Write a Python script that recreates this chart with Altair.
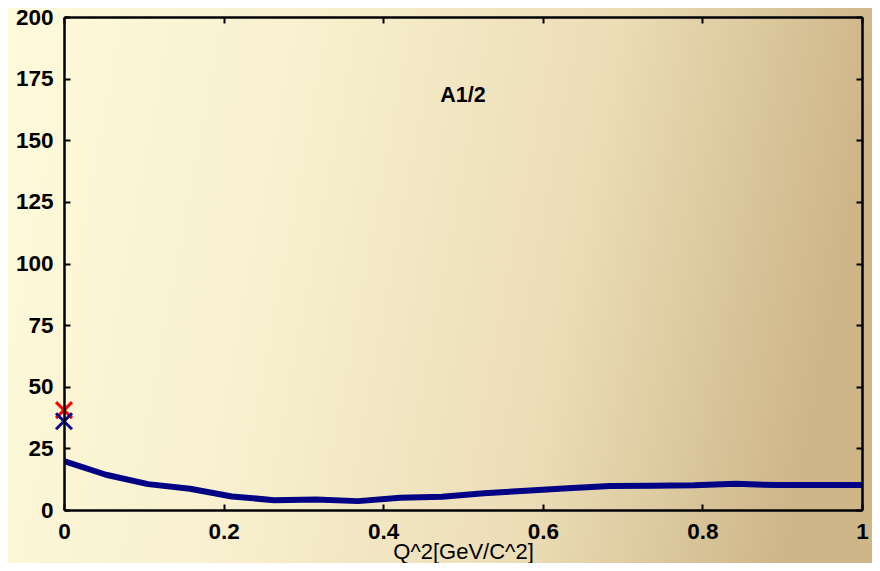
import altair as alt
import pandas as pd

# Data
q2 = [0.0, 0.0526, 0.1053, 0.1579, 0.2105, 0.2632, 0.3158, 0.3684, 0.4211, 0.4737,
      0.5263, 0.5789, 0.6316, 0.6842, 0.7368, 0.7895, 0.8421, 0.8947, 0.9474, 1.0]
a12 = [19.8, 14.3, 10.5, 8.6, 5.5, 4.0, 4.3, 3.6, 5.0, 5.4,
       6.8, 7.8, 8.8, 9.7, 9.8, 10.0, 10.6, 10.1, 10.1, 10.1]

marker_x = [0.0, 0.0]
marker_y = [40.5, 36.0]
marker_series = ["red", "blue"]
marker_colors = ["#FF0000", "#0A0A8C"]

label_text = ["A1/2"]
label_x = [0.5]
label_y = [168]

x_ticks = [0, 0.2, 0.4, 0.6, 0.8, 1]
y_ticks = [0, 25, 50, 75, 100, 125, 150, 175, 200]

W, H = 798, 493
PAD = {"left": 56, "top": 9, "right": 10, "bottom": 53}

line_df = pd.DataFrame({"q2": q2, "a": a12})
mk_df = pd.DataFrame({"q2": marker_x, "a": marker_y, "s": marker_series})
txt_df = pd.DataFrame({"q2": label_x, "a": label_y, "t": label_text})
bg_df = pd.DataFrame({"k": [0]})

xs = alt.Scale(domain=[0, 1], nice=False, zero=False)
ys = alt.Scale(domain=[0, 200], nice=False, zero=False)

FONT = "Liberation Sans"
FS = 22.5

x_axis = alt.Axis(values=x_ticks, format=".1~f", title="Q^2[GeV/C^2]", grid=False,
                  zindex=2, tickSize=alt.ExprRef("-6"), labelPadding=16,
                  labelFont=FONT, labelFontSize=FS, labelFontWeight="bold",
                  labelColor="black", titleFont=FONT, titleFontSize=22,
                  titleFontWeight="normal", titleColor="black", titlePadding=-1,
                  domainColor="black", domainWidth=2.5, tickColor="black",
                  tickWidth=2, labelFlush=False)
y_axis = alt.Axis(values=y_ticks, title=None, grid=False, zindex=2,
                  tickSize=alt.ExprRef("-6"), labelPadding=17,
                  labelFont=FONT, labelFontSize=FS, labelFontWeight="bold",
                  labelColor="black", domainColor="black", domainWidth=2.5,
                  tickColor="black", tickWidth=2, labelFlush=False)

bg = alt.Chart(bg_df).mark_rect(
    fill=alt.Gradient(
        gradient="linear",
        stops=[alt.GradientStop(color="#FEFADB", offset=0),
               alt.GradientStop(color="#F8F0CE", offset=0.35),
               alt.GradientStop(color="#EBDDB6", offset=0.7),
               alt.GradientStop(color="#CEB689", offset=1)],
        x1=0, y1=0, x2=1, y2=0.12),
    stroke=None,
).encode(
    x=alt.value(-PAD["left"]), x2=alt.value(W + PAD["right"]),
    y=alt.value(-PAD["top"]), y2=alt.value(H + PAD["bottom"]),
)

line = alt.Chart(line_df).mark_line(color="#020285", strokeWidth=6,
                                    strokeJoin="round", clip=True).encode(
    x=alt.X("q2:Q", scale=xs, axis=x_axis),
    y=alt.Y("a:Q", scale=ys, axis=y_axis),
)

cross = "M-1,-1L1,1M1,-1L-1,1"
markers = alt.Chart(mk_df).mark_point(shape=cross, filled=False, size=256,
                                      strokeWidth=3, opacity=1).encode(
    x=alt.X("q2:Q", scale=xs),
    y=alt.Y("a:Q", scale=ys),
    color=alt.Color("s:N", scale=alt.Scale(domain=marker_series, range=marker_colors),
                    legend=None),
    order=alt.Order("a:Q", sort="descending"),
)

text = alt.Chart(txt_df).mark_text(font=FONT, fontSize=21.5, fontWeight="bold",
                                   color="black").encode(
    x=alt.X("q2:Q", scale=xs),
    y=alt.Y("a:Q", scale=ys),
    text="t:N",
)

mirror = alt.Chart(line_df).mark_line(opacity=0).encode(
    x=alt.X("q2:Q", scale=xs,
            axis=alt.Axis(orient="top", values=x_ticks, labels=False, title=None,
                          grid=False, zindex=2, tickSize=alt.ExprRef("-6"),
                          domainColor="black", domainWidth=2.5, tickColor="black",
                          tickWidth=2)),
    y=alt.Y("a:Q", scale=ys,
            axis=alt.Axis(orient="right", values=y_ticks, labels=False, title=None,
                          grid=False, zindex=2, tickSize=alt.ExprRef("-6"),
                          domainColor="black", domainWidth=2.5, tickColor="black",
                          tickWidth=2)),
)

chart = alt.layer(bg, line, markers, text, mirror).resolve_axis(
    x="independent", y="independent"
).properties(
    width=W, height=H, padding=PAD, autosize="none", background="#F3EACB"
).configure_view(stroke=None)

chart.save("out.html", embed_options={"renderer": "svg", "actions": False})
